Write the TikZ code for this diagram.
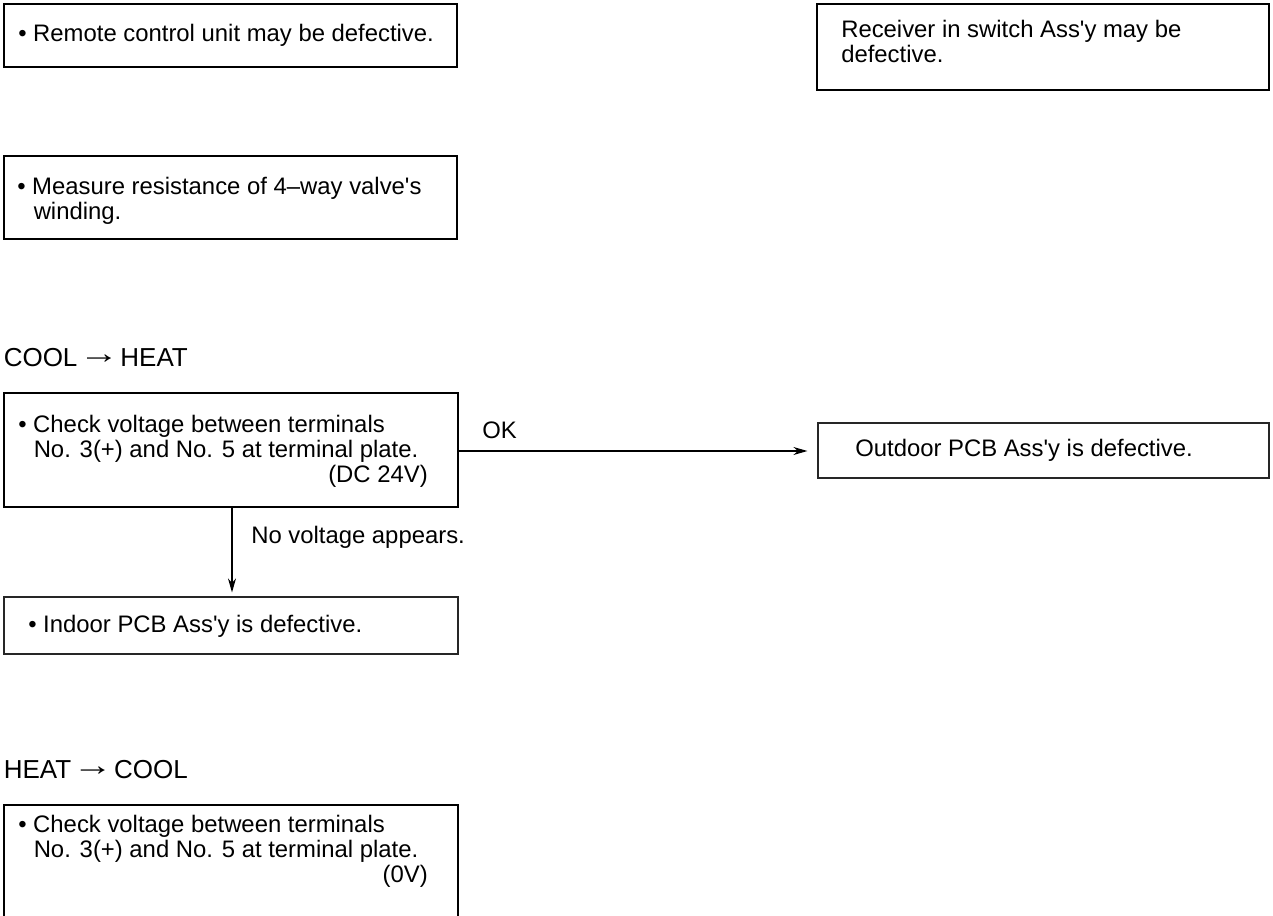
\documentclass[tikz,border=0pt]{standalone}
\usepackage{fontspec}
\setmainfont{Liberation Sans}
\usetikzlibrary{fit,arrows.meta}
\newcommand{\ap}{\textquotesingle}
\newcommand{\rarr}{\raisebox{2.2pt}{\scalebox{1.55}[1.15]{\bfseries →}}}
\begin{document}
\begin{tikzpicture}[x=0.75pt,y=-0.75pt,
  thickbox/.style={draw=black,line width=1.7pt,inner sep=0pt},
  thinbox/.style={draw=black!85,line width=0.9pt,inner sep=0pt},
  txt/.style={inner sep=0pt,anchor=base west,font=\fontsize{17.9}{21}\selectfont},
  htxt/.style={inner sep=0pt,anchor=base west,font=\fontsize{19.5}{22}\selectfont},
  rtxt/.style={inner sep=0pt,anchor=base east,font=\fontsize{17.9}{21}\selectfont},
  conn/.style={line width=0.8pt,-{Stealth[length=10.5pt,width=6pt]}}]
\useasboundingbox (0,0) rectangle (1273,916);
% boxes
\node[thickbox,fit={(4,4)(457,67)}] (b1) {};
\node[thickbox,fit={(817,4)(1269,90)}] (b2) {};
\node[thickbox,fit={(4,156)(457,239)}] (b3) {};
\node[thickbox,fit={(4,393)(458,507)}] (b4) {};
\node[thinbox,fit={(818,423)(1269,478)}] (b7) {};
\node[thinbox,fit={(4,597)(458,654)}] (b5) {};
\node[thickbox,fit={(4,805)(458,920)}] (b6) {};
% texts
\node[txt] (t1) at (18,42) {• Remote control unit may be defective.};
\node[txt] (t2a) at (841,38) {Receiver in switch Ass\ap y may be};
\node[txt] (t2b) at (841,63) {defective.};
\node[txt] (t3a) at (17,195) {• Measure resistance of 4–way valve\ap s};
\node[txt] (t3b) at (33.5,220) {winding.};
\node[htxt] (h1) at (3.5,366) {COOL\hspace{1pt}\rarr\hspace{1pt}HEAT};
\node[txt] (t4a) at (18,432) {• Check voltage between terminals};
\node[txt] (t4b) at (33.5,457) {No. 3(+) and No. 5 at terminal plate.};
\node[rtxt] (t4c) at (428,482) {(DC 24V)};
\node[txt] (ok) at (482,438) {OK};
\node[txt] (t7) at (855,456) {Outdoor PCB Ass\ap y is defective.};
\node[txt] (nv) at (251,543) {No voltage appears.};
\node[txt] (t5) at (28,632) {• Indoor PCB Ass\ap y is defective.};
\node[htxt] (h2) at (3.5,778) {HEAT\hspace{1pt}\rarr\hspace{1pt}COOL};
\node[txt] (t6a) at (18,832) {• Check voltage between terminals};
\node[txt] (t6b) at (33.5,857) {No. 3(+) and No. 5 at terminal plate.};
\node[rtxt] (t6c) at (428,882) {(0V)};
% connectors
\draw[conn] (b4.east |- 0,451) -- ([xshift=-10*0.75pt]b7.west |- 0,451);
\draw[conn] (232,0 |- b4.south) -- ([yshift=3pt]232,0 |- b5.north);
\end{tikzpicture}
\end{document}
